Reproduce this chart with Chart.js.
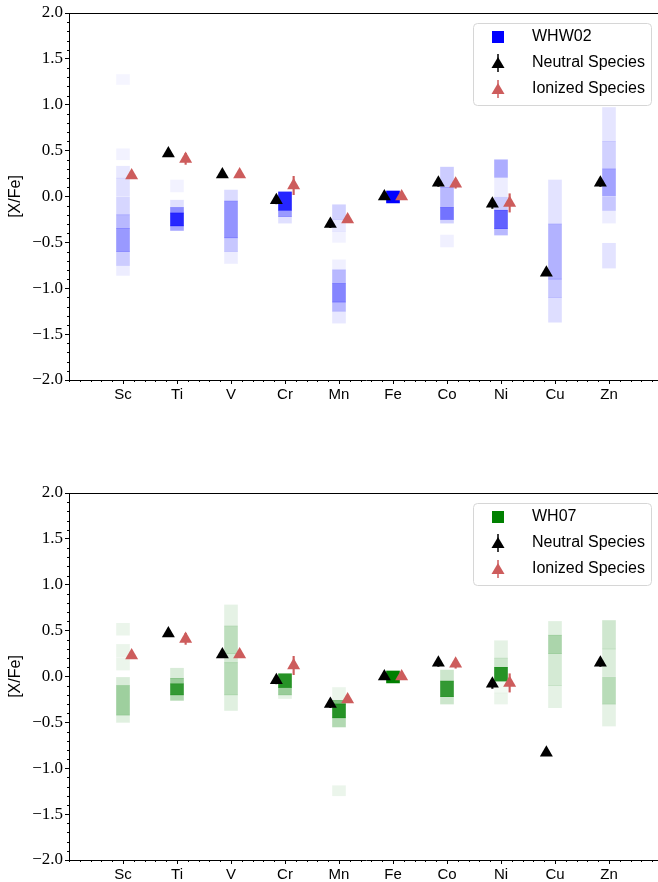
<!DOCTYPE html>
<html>
<head>
<meta charset="utf-8">
<script src="https://cdn.jsdelivr.net/npm/chart.js@4.4.1/dist/chart.umd.min.js"></script>
<style>
  html, body { margin: 0; padding: 0; background: #fff; overflow: hidden; }
  .panel { position: absolute; left: 0; width: 663px; height: 440px; }
  #topPanel { top: 0; }
  #bottomPanel { top: 480px; }
</style>
</head>
<body>
<div class="panel" id="topPanel"><canvas id="whw02Chart" width="663" height="440"></canvas></div>
<div class="panel" id="bottomPanel"><canvas id="wh07Chart" width="663" height="440"></canvas></div>
<script>
const elements = ["Sc", "Ti", "V", "Cr", "Mn", "Fe", "Co", "Ni", "Cu", "Zn"];

// observed abundances [X/Fe]
const neutralXFe = [null, 0.47, 0.24, -0.04, -0.30, 0.00, 0.15, -0.08, -0.83, 0.15];
const neutralErr = [null, 0.03, 0.03, 0.04, 0.04, 0.02, 0.04, 0.05, 0.03, 0.04];
const ionizedXFe = [0.23, 0.41, 0.24, 0.12, -0.25, 0.00, 0.14, -0.07, null, null];
const ionizedErr = [0.03, 0.06, 0.03, 0.10, 0.03, 0.02, 0.05, 0.10, null, null];

// model yield density per element: [low, high, shade]
const whw02Bands = [
  [[1.22, 1.33, 0.04], [0.40, 0.52, 0.05], [0.20, 0.33, 0.09], [0.0, 0.20, 0.12], [-0.20, 0.0, 0.16], [-0.35, -0.20, 0.28], [-0.60, -0.35, 0.40], [-0.75, -0.60, 0.20], [-0.86, -0.75, 0.07]],
  [[0.05, 0.18, 0.05], [-0.12, -0.04, 0.12], [-0.18, -0.12, 0.45], [-0.32, -0.18, 0.85], [-0.37, -0.32, 0.35]],
  [[-0.05, 0.07, 0.14], [-0.45, -0.05, 0.42], [-0.60, -0.45, 0.22], [-0.73, -0.60, 0.07]],
  [[-0.15, 0.05, 0.85], [-0.22, -0.15, 0.40], [-0.29, -0.22, 0.12]],
  [[-0.25, -0.09, 0.18], [-0.38, -0.25, 0.09], [-0.50, -0.38, 0.05], [-0.80, -0.69, 0.06], [-0.95, -0.80, 0.28], [-1.15, -0.95, 0.48], [-1.25, -1.15, 0.28], [-1.38, -1.25, 0.09]],
  [[-0.07, 0.06, 1.0]],
  [[0.10, 0.32, 0.20], [-0.12, 0.10, 0.28], [-0.25, -0.12, 0.55], [-0.29, -0.25, 0.18], [-0.55, -0.42, 0.06]],
  [[0.21, 0.40, 0.32], [0.0, 0.21, 0.07], [-0.15, 0.0, 0.20], [-0.35, -0.15, 0.62], [-0.42, -0.35, 0.28]],
  [[-0.30, 0.18, 0.11], [-0.90, -0.30, 0.30], [-1.10, -0.90, 0.22], [-1.37, -1.10, 0.13]],
  [[0.60, 0.97, 0.10], [0.30, 0.60, 0.18], [0.0, 0.30, 0.36], [-0.15, 0.0, 0.22], [-0.29, -0.15, 0.07], [-0.78, -0.51, 0.11]]
];

const wh07Bands = [
  [[0.45, 0.58, 0.08], [0.21, 0.35, 0.08], [0.07, 0.20, 0.08], [-0.10, -0.01, 0.15], [-0.42, -0.10, 0.38], [-0.50, -0.42, 0.12]],
  [[-0.02, 0.09, 0.15], [-0.08, -0.02, 0.40], [-0.20, -0.08, 0.80], [-0.26, -0.20, 0.30]],
  [[0.55, 0.78, 0.10], [0.25, 0.55, 0.26], [0.15, 0.25, 0.17], [-0.20, 0.15, 0.28], [-0.37, -0.20, 0.12]],
  [[-0.12, 0.03, 0.85], [-0.20, -0.12, 0.40], [-0.24, -0.20, 0.10]],
  [[-0.26, -0.12, 0.08], [-0.30, -0.26, 0.50], [-0.45, -0.30, 0.85], [-0.55, -0.45, 0.30], [-1.30, -1.19, 0.08]],
  [[-0.07, 0.06, 1.0]],
  [[-0.05, 0.07, 0.20], [-0.22, -0.05, 0.80], [-0.30, -0.22, 0.20]],
  [[0.20, 0.39, 0.10], [0.10, 0.20, 0.20], [-0.05, 0.10, 0.85], [-0.18, -0.05, 0.05], [-0.30, -0.18, 0.08]],
  [[0.45, 0.60, 0.12], [0.25, 0.45, 0.33], [-0.10, 0.25, 0.17], [-0.34, -0.10, 0.10]],
  [[0.30, 0.61, 0.19], [0.0, 0.30, 0.14], [-0.30, 0.0, 0.28], [-0.54, -0.30, 0.10]]
];

const neutralColor = "#000000";
const ionizedColor = "#cd5c5c";
const markerShift = 0.16;

const serifTicks = { family: "Liberation Serif", size: 17 };
const sansFont = { family: "Liberation Sans", size: 16 };

function bandPoints(bands) {
  const pts = [];
  bands.forEach((list, i) => list.forEach(b => pts.push({ x: i, y: [b[0], b[1]], a: b[2] })));
  return pts;
}

function markerPoints(vals, shift) {
  return vals.map((v, i) => v === null ? null : { x: i + shift, y: v }).filter(p => p);
}

function errPoints(vals, errs, shift) {
  return vals.map((v, i) => v === null ? null : { x: i + shift, y: [v - errs[i], v + errs[i]] }).filter(p => p);
}

const axisDecor = {
  id: "axisDecor",
  afterDraw(chart, args, opts) {
    const { ctx, chartArea: a, scales } = chart;
    const x = scales.x, y = scales.y;
    ctx.save();
    ctx.strokeStyle = "#000";
    ctx.lineWidth = 1;
    ctx.beginPath();
    ctx.moveTo(a.left, a.top + 0.5);
    ctx.lineTo(a.right, a.top + 0.5);
    for (let k = -20; k <= 20; k++) {
      if (k % 5 === 0) continue;
      const py = Math.round(y.getPixelForValue(k / 10)) + 0.5;
      ctx.moveTo(a.left - 2, py);
      ctx.lineTo(a.left, py);
    }
    for (let k = -5; k <= 50; k++) {
      if (k % 5 === 0 && k >= 0 && k <= 45) continue;
      const px = Math.round(x.getPixelForValue(k / 5)) + 0.5;
      ctx.moveTo(px, a.bottom);
      ctx.lineTo(px, a.bottom + 2);
    }
    ctx.stroke();

    // legend box
    const bx = a.right - 190, by = a.top + 10, bw = 178, bh = 82;
    ctx.fillStyle = "rgba(255,255,255,0.85)";
    ctx.strokeStyle = "#d6d6d6";
    ctx.beginPath();
    ctx.roundRect(bx + 0.5, by + 0.5, bw, bh, 4);
    ctx.fill();
    ctx.stroke();

    const mx = bx + 25, tx = bx + 59;
    const rows = [by + 14, by + 40, by + 66];
    ctx.fillStyle = opts.color;
    ctx.fillRect(mx - 6, rows[0] - 6, 12, 12);
    [[neutralColor, rows[1]], [ionizedColor, rows[2]]].forEach(([c, ry]) => {
      ctx.strokeStyle = c;
      ctx.lineWidth = 1.5;
      ctx.beginPath();
      ctx.moveTo(mx, ry - 9);
      ctx.lineTo(mx, ry + 9);
      ctx.stroke();
      ctx.fillStyle = c;
      ctx.beginPath();
      ctx.moveTo(mx, ry - 6);
      ctx.lineTo(mx - 6.5, ry + 5);
      ctx.lineTo(mx + 6.5, ry + 5);
      ctx.closePath();
      ctx.fill();
    });
    ctx.fillStyle = "#000";
    ctx.font = "16px 'Liberation Sans'";
    ctx.textBaseline = "middle";
    ctx.fillText(opts.label, tx, rows[0]);
    ctx.fillText("Neutral Species", tx, rows[1]);
    ctx.fillText("Ionized Species", tx, rows[2]);
    ctx.restore();
  }
};

function makeChart(canvasId, bands, rgb, label, legendColor) {
  return new Chart(document.getElementById(canvasId), {
    type: "scatter",
    data: {
      datasets: [
        {
          type: "bar",
          label: label,
          data: bandPoints(bands),
          backgroundColor: c => `rgba(${rgb},${c.raw ? c.raw.a : 1})`,
          borderWidth: 0,
          barThickness: 13,
          grouped: false,
          order: 3
        },
        {
          type: "bar",
          label: "neutral err",
          data: errPoints(neutralXFe, neutralErr, -markerShift),
          backgroundColor: neutralColor,
          barThickness: 1.5,
          grouped: false,
          order: 2
        },
        {
          type: "bar",
          label: "ionized err",
          data: errPoints(ionizedXFe, ionizedErr, markerShift),
          backgroundColor: ionizedColor,
          barThickness: 1.5,
          grouped: false,
          order: 2
        },
        {
          label: "Neutral Species",
          data: markerPoints(neutralXFe, -markerShift),
          pointStyle: "triangle",
          pointRadius: 7.5,
          borderWidth: 0,
          backgroundColor: neutralColor,
          order: 1
        },
        {
          label: "Ionized Species",
          data: markerPoints(ionizedXFe, markerShift),
          pointStyle: "triangle",
          pointRadius: 7.5,
          borderWidth: 0,
          backgroundColor: ionizedColor,
          order: 1
        }
      ]
    },
    options: {
      responsive: false,
      animation: false,
      layout: { autoPadding: false, padding: { top: 13, right: 0, left: 0, bottom: 0 } },
      plugins: {
        legend: { display: false },
        tooltip: { enabled: false },
        axisDecor: { label: label, color: legendColor }
      },
      scales: {
        x: {
          type: "linear",
          min: -1,
          max: 10,
          offset: false,
          afterFit: s => { s.height = 60; s.paddingLeft = 0; s.paddingRight = 0; },
          afterBuildTicks: s => { s.ticks = elements.map((e, i) => ({ value: i })); },
          ticks: {
            autoSkip: false,
            maxRotation: 0,
            padding: 2,
            color: "#000",
            font: { family: "Liberation Sans", size: 15 },
            callback: v => elements[v]
          },
          grid: { offset: false, drawOnChartArea: false, drawTicks: true, tickLength: 4, tickColor: "#000" },
          border: { display: true, color: "#000", width: 1 }
        },
        y: {
          min: -2,
          max: 2,
          afterFit: s => { s.width = 69; },
          ticks: {
            stepSize: 0.5,
            padding: 2,
            color: "#000",
            font: serifTicks,
            callback: v => v.toFixed(1).replace("-", "\u2212")
          },
          grid: { drawOnChartArea: false, drawTicks: true, tickLength: 4, tickColor: "#000" },
          border: { display: true, color: "#000", width: 1 },
          title: { display: true, text: "[X/Fe]", color: "#000", font: sansFont, padding: { top: 6, bottom: 0 } }
        }
      }
    },
    plugins: [axisDecor]
  });
}

makeChart("whw02Chart", whw02Bands, "0,0,255", "WHW02", "#0000ff");
makeChart("wh07Chart", wh07Bands, "0,128,0", "WH07", "#008000");
</script>
</body>
</html>
